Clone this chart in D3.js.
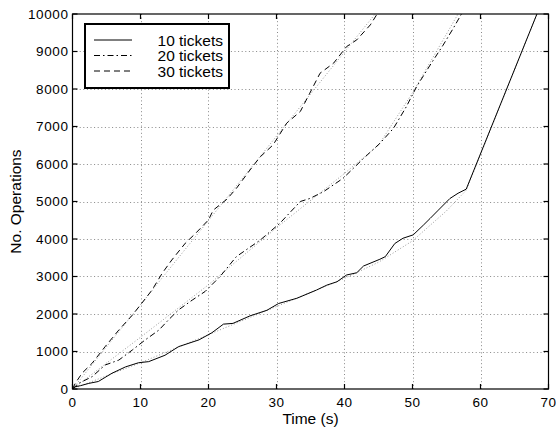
<!DOCTYPE html>
<html>
<head>
<meta charset="utf-8">
<script src="https://cdn.jsdelivr.net/npm/d3@7"></script>
<style>
  body { margin: 0; background: white; }
  text { font-family: "Liberation Sans", Arial, Helvetica, sans-serif; fill: black; }
</style>
</head>
<body>
<script>
/**
 * Data
 */

const TIME_10 = [0, 0.4, 1.2, 2.4, 3.8, 5.8, 7.8, 9.7, 11.2, 13.6, 15.6, 18.6, 20.5, 22.2, 23.6, 26.1, 28.6, 30.3, 33.0, 35.9, 37.4, 38.9, 40.3, 41.8, 42.8, 45.2, 46.0, 47.4, 48.6, 50.1, 51.6, 52.6, 53.8, 55.5, 56.7, 57.9, 68.3];
const OPS_10  = [0, 60, 90, 150, 200, 420, 590, 700, 730, 900, 1130, 1310, 1500, 1730, 1750, 1950, 2100, 2280, 2420, 2640, 2770, 2860, 3040, 3100, 3280, 3460, 3530, 3880, 4020, 4110, 4370, 4550, 4770, 5080, 5220, 5330, 10000];

const TIME_20 = [0, 0.9, 2.9, 4.8, 6.8, 8.8, 10.7, 12.7, 14.1, 15.6, 17.6, 19.5, 21.7, 24.1, 27.6, 30.5, 33.5, 34.9, 36.9, 39.8, 42.8, 45.2, 47.2, 49.1, 50.6, 52.6, 54.5, 56.0, 57.2];
const OPS_20  = [0, 150, 330, 640, 770, 1040, 1310, 1570, 1840, 2110, 2370, 2600, 3000, 3530, 3970, 4420, 5000, 5080, 5260, 5620, 6150, 6550, 6950, 7530, 8060, 8640, 9170, 9620, 10000];

const TIME_30 = [0, 0.4, 1.4, 2.9, 4.8, 6.8, 8.8, 10.2, 11.7, 13.2, 14.6, 16.6, 18.1, 20.0, 20.7, 22.7, 24.1, 26.1, 27.6, 29.5, 31.5, 33.5, 34.9, 36.4, 38.4, 40.3, 41.8, 43.8, 44.8];
const OPS_30  = [0, 150, 420, 690, 1130, 1570, 1970, 2290, 2640, 3090, 3440, 3890, 4150, 4510, 4770, 5060, 5350, 5840, 6190, 6510, 7090, 7400, 7890, 8420, 8690, 9130, 9310, 9710, 10000];

// gray dotted model curves drawn under each measured series
const MODEL_TIME_10 = [0, 10, 20, 30, 40, 45, 50, 55, 57.9, 68.3];
const MODEL_OPS_10  = [0, 700, 1450, 2200, 2950, 3380, 3950, 4750, 5300, 10000];
const MODEL_TIME_20 = [0, 10, 20, 30, 40, 45, 50, 56.7];
const MODEL_OPS_20  = [0, 1380, 2780, 4300, 5750, 6500, 7900, 10000];
const MODEL_TIME_30 = [0, 44.5];
const MODEL_OPS_30  = [0, 10000];

const LEGEND_LABELS = ["10 tickets", "20 tickets", "30 tickets"];
const X_TICKS = [0, 10, 20, 30, 40, 50, 60, 70];
const Y_TICKS = [0, 1000, 2000, 3000, 4000, 5000, 6000, 7000, 8000, 9000, 10000];

/**
 * Layout
 */

const WIDTH = 556;
const HEIGHT = 429;
const LEFT = 72.5, RIGHT = 548.5, TOP = 14, BOTTOM = 389;
const TICK_LEN = 5;

const DASHES = [null, "6,3,1.5,3", "6,4"];   // solid, dash-dot, dashed

const svg = d3.select("body").append("svg")
    .attr("width", WIDTH)
    .attr("height", HEIGHT);

svg.append("rect")
    .attr("width", WIDTH)
    .attr("height", HEIGHT)
    .attr("fill", "white");

const x = d3.scaleLinear().domain([0, 70]).range([LEFT, RIGHT]);
const y = d3.scaleLinear().domain([0, 10000]).range([BOTTOM, TOP]);

svg.append("clipPath").attr("id", "plot")
  .append("rect")
    .attr("x", LEFT).attr("y", TOP)
    .attr("width", RIGHT - LEFT).attr("height", BOTTOM - TOP);

/**
 * Grid (dotted)
 */

const grid = svg.append("g")
    .attr("stroke", "#888")
    .attr("stroke-width", 1)
    .attr("stroke-dasharray", "1,2.6");

grid.selectAll(".gx").data(X_TICKS.slice(1, -1)).join("line")
    .attr("x1", d => Math.round(x(d)) + 0.5).attr("x2", d => Math.round(x(d)) + 0.5)
    .attr("y1", TOP).attr("y2", BOTTOM);

grid.selectAll(".gy").data(Y_TICKS.slice(1, -1)).join("line")
    .attr("y1", d => Math.round(y(d)) + 0.5).attr("y2", d => Math.round(y(d)) + 0.5)
    .attr("x1", LEFT).attr("x2", RIGHT);

/**
 * Series
 */

function zip(ts, vs) {
    return ts.map((t, i) => [t, vs[i]]);
}

const line = d3.line()
    .x(d => x(d[0]))
    .y(d => y(d[1]));

const models = [
    zip(MODEL_TIME_10, MODEL_OPS_10),
    zip(MODEL_TIME_20, MODEL_OPS_20),
    zip(MODEL_TIME_30, MODEL_OPS_30)
];
const series = [
    zip(TIME_10, OPS_10),
    zip(TIME_20, OPS_20),
    zip(TIME_30, OPS_30)
];

const plot = svg.append("g").attr("clip-path", "url(#plot)");

plot.selectAll(".model").data(models).join("path")
    .attr("d", line)
    .attr("fill", "none")
    .attr("stroke", "#999")
    .attr("stroke-width", 1)
    .attr("stroke-dasharray", "1,2");

plot.selectAll(".series").data(series).join("path")
    .attr("d", line)
    .attr("fill", "none")
    .attr("stroke", "black")
    .attr("stroke-width", 1)
    .attr("stroke-dasharray", (d, i) => DASHES[i]);

/**
 * Axes: box with inward ticks on all sides
 */

const axes = svg.append("g").attr("stroke", "black").attr("stroke-width", 1.2);

axes.append("rect")
    .attr("x", LEFT).attr("y", TOP)
    .attr("width", RIGHT - LEFT).attr("height", BOTTOM - TOP)
    .attr("fill", "none");

X_TICKS.forEach(d => {
    axes.append("line")
        .attr("x1", x(d)).attr("x2", x(d))
        .attr("y1", BOTTOM).attr("y2", BOTTOM - TICK_LEN);
    axes.append("line")
        .attr("x1", x(d)).attr("x2", x(d))
        .attr("y1", TOP).attr("y2", TOP + TICK_LEN);
});

Y_TICKS.forEach(d => {
    axes.append("line")
        .attr("y1", y(d)).attr("y2", y(d))
        .attr("x1", LEFT).attr("x2", LEFT + TICK_LEN);
    axes.append("line")
        .attr("y1", y(d)).attr("y2", y(d))
        .attr("x1", RIGHT).attr("x2", RIGHT - TICK_LEN);
});

svg.selectAll(".xlabel").data(X_TICKS).join("text")
    .attr("x", d => x(d))
    .attr("y", 406.5)
    .attr("text-anchor", "middle")
    .attr("font-size", 13.5)
    .attr("letter-spacing", 0.6)
    .text(d => d);

svg.selectAll(".ylabel").data(Y_TICKS).join("text")
    .attr("x", 68.5)
    .attr("y", d => y(d) + 4.5)
    .attr("text-anchor", "end")
    .attr("font-size", 13.5)
    .attr("letter-spacing", 0.6)
    .text(d => d);

svg.append("text")
    .attr("x", (LEFT + RIGHT) / 2)
    .attr("y", 423.5)
    .attr("text-anchor", "middle")
    .attr("font-size", 15.5)
    .text("Time (s)");

svg.append("text")
    .attr("transform", `translate(21,${(TOP + BOTTOM) / 2}) rotate(-90)`)
    .attr("text-anchor", "middle")
    .attr("font-size", 15.5)
    .text("No. Operations");

/**
 * Legend
 */

const legend = svg.append("g");

legend.append("rect")
    .attr("x", 85).attr("y", 24)
    .attr("width", 144).attr("height", 64)
    .attr("fill", "white")
    .attr("stroke", "black")
    .attr("stroke-width", 2);

LEGEND_LABELS.forEach((label, i) => {
    const ly = 40 + i * 15.5;
    legend.append("line")
        .attr("x1", 94).attr("x2", 132)
        .attr("y1", ly).attr("y2", ly)
        .attr("stroke", "black")
        .attr("stroke-width", 1)
        .attr("stroke-dasharray", DASHES[i]);
    legend.append("text")
        .attr("x", 223)
        .attr("y", ly + 5.5)
        .attr("text-anchor", "end")
        .attr("font-size", 15.5)
        .text(label);
});
</script>
</body>
</html>
